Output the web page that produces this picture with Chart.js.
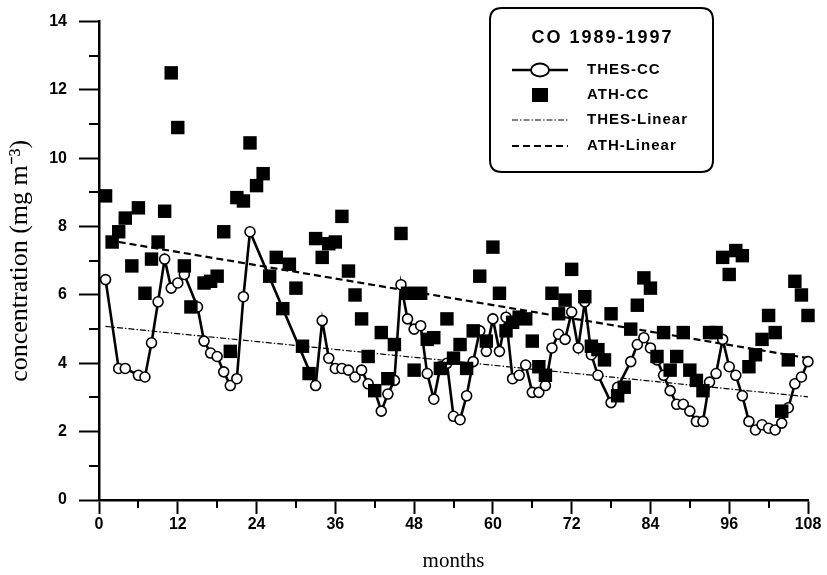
<!DOCTYPE html>
<html>
<head>
<meta charset="utf-8">
<title>CO 1989-1997</title>
<script src="https://cdn.jsdelivr.net/npm/chart.js@4.4.1/dist/chart.umd.min.js"></script>
<style>
  html, body { margin: 0; padding: 0; background: #fff; }
  canvas { display: block; }
</style>
</head>
<body>
<canvas id="chart" width="827" height="575"></canvas>
<script>
// monthly CO concentrations
var thesMonths = [1, 3, 4, 6, 7, 8, 9, 10, 11, 12, 13, 15, 16, 17, 18, 19, 20, 21, 22, 23,
  33, 34, 35, 36, 37, 38, 39, 40, 41, 42, 43, 44, 45, 46, 47, 48, 49, 50, 51, 52, 53, 54, 55,
  56, 57, 58, 59, 60, 61, 62, 63, 64, 65, 66, 67, 68, 69, 70, 71, 72, 73, 74, 75, 76, 78, 79,
  81, 82, 83, 84, 85, 86, 87, 88, 89, 90, 91, 92, 93, 94, 95, 96, 97, 98, 99, 100, 101, 102,
  103, 104, 105, 106, 107, 108];
var thesValues = [6.45, 3.85, 3.85, 3.65, 3.6, 4.6, 5.8, 7.05, 6.2, 6.35, 6.6, 5.65, 4.65, 4.3, 4.2, 3.75, 3.35, 3.55, 5.95, 7.85,
  3.35, 5.25, 4.15, 3.85, 3.85, 3.8, 3.6, 3.8, 3.4, 3.2, 2.6, 3.1, 3.5, 6.3, 5.3, 5.0, 5.1, 3.7, 2.95, 3.9, 4.0, 2.45, 2.35,
  3.05, 4.05, 4.95, 4.35, 5.3, 4.35, 5.35, 3.55, 3.65, 3.95, 3.15, 3.15, 3.35, 4.45, 4.85, 4.7, 5.5, 4.45, 5.8, 4.25, 3.65, 2.85, 3.3,
  4.05, 4.55, 4.75, 4.45, 4.1, 3.65, 3.2, 2.8, 2.8, 2.6, 2.3, 2.3, 3.45, 3.7, 4.7, 3.9, 3.65, 3.05, 2.3, 2.05, 2.2, 2.1,
  2.05, 2.25, 2.7, 3.4, 3.6, 4.05];

var athMonths = [1, 2, 3, 4, 5, 6, 7, 8, 9, 10, 11, 12, 13, 14, 16, 17, 18, 19, 20, 21, 22, 23, 24, 25, 26, 27, 28, 29, 30,
  31, 32, 33, 34, 35, 36, 37, 38, 39, 40, 41, 42, 43, 44, 45, 46, 47, 48, 49, 50, 51, 52, 53, 54, 55, 56, 57, 58, 59, 60,
  61, 62, 63, 64, 65, 66, 67, 68, 69, 70, 71, 72, 74, 75, 76, 77, 78, 79, 80, 81, 82, 83, 84, 85, 86, 87, 88, 89, 90,
  91, 92, 93, 94, 95, 96, 97, 98, 99, 100, 101, 102, 103, 104, 105, 106, 107, 108];
var athValues = [8.9, 7.55, 7.85, 8.25, 6.85, 8.55, 6.05, 7.05, 7.55, 8.45, 12.5, 10.9, 6.85, 5.65, 6.35, 6.4, 6.55, 7.85, 4.35, 8.85, 8.75, 10.45, 9.2, 9.55, 6.55, 7.1, 5.6, 6.9, 6.2,
  4.5, 3.7, 7.65, 7.1, 7.5, 7.55, 8.3, 6.7, 6.0, 5.3, 4.2, 3.2, 4.9, 3.55, 4.55, 7.8, 6.05, 3.8, 6.05, 4.7, 4.75, 3.85, 5.3, 4.15, 4.55, 3.85, 4.95, 6.55, 4.65, 7.4,
  6.05, 4.95, 5.2, 5.35, 5.3, 4.65, 3.9, 3.65, 6.05, 5.45, 5.85, 6.75, 5.95, 4.5, 4.4, 4.1, 5.45, 3.05, 3.3, 5.0, 5.7, 6.5, 6.2, 4.2, 4.9, 3.8, 4.2, 4.9, 3.8,
  3.5, 3.2, 4.9, 4.9, 7.1, 6.6, 7.3, 7.15, 3.9, 4.25, 4.7, 5.4, 4.9, 2.6, 4.1, 6.4, 6.0, 5.4];

// linear trend lines (end points)
var thesLinearMonths = [1, 108];
var thesLinearValues = [5.08, 3.02];
var athLinearMonths = [3, 108];
var athLinearValues = [7.55, 4.15];

var xTicks = [0, 12, 24, 36, 48, 60, 72, 84, 96, 108];
var yTicks = [0, 2, 4, 6, 8, 10, 12, 14];

var legendTitle = 'CO 1989-1997';

var SANS = "'Liberation Sans', Arial, sans-serif";
var SERIF = "'Liberation Serif', 'Times New Roman', serif";

function pairs(xs, ys) {
  var out = [];
  for (var i = 0; i < xs.length; i++) {
    out.push({ x: xs[i], y: ys[i] });
  }
  return out;
}

function isMajor(list, v) {
  return list.indexOf(v) !== -1;
}

// minor ticks are shorter than the major ones, chart.js cannot vary tickLength
var minorTicks = {
  id: 'minorTicks',
  afterDraw: function(chart) {
    var ctx = chart.ctx;
    var xs = chart.scales.x, ys = chart.scales.y;
    var area = chart.chartArea;
    ctx.save();
    ctx.strokeStyle = '#000';
    ctx.lineWidth = 2;
    ctx.beginPath();
    for (var v = 1; v < 14; v += 2) {
      var py = Math.round(ys.getPixelForValue(v));
      ctx.moveTo(area.left - 10, py);
      ctx.lineTo(area.left, py);
    }
    for (var m = 6; m < 108; m += 12) {
      var px = Math.round(xs.getPixelForValue(m));
      ctx.moveTo(px, area.bottom);
      ctx.lineTo(px, area.bottom + 8);
    }
    ctx.stroke();
    ctx.restore();
  }
};

function roundRect(ctx, x, y, w, h, r) {
  ctx.beginPath();
  ctx.moveTo(x + r, y);
  ctx.lineTo(x + w - r, y);
  ctx.quadraticCurveTo(x + w, y, x + w, y + r);
  ctx.lineTo(x + w, y + h - r);
  ctx.quadraticCurveTo(x + w, y + h, x + w - r, y + h);
  ctx.lineTo(x + r, y + h);
  ctx.quadraticCurveTo(x, y + h, x, y + h - r);
  ctx.lineTo(x, y + r);
  ctx.quadraticCurveTo(x, y, x + r, y);
  ctx.closePath();
}

// boxed legend sitting inside the plot, top right
var boxLegend = {
  id: 'boxLegend',
  afterDraw: function(chart) {
    var ctx = chart.ctx;
    var bx = 490, by = 8, bw = 223, bh = 164;
    var sx0 = 512, sx1 = 568, tx = 587;
    var rows = [70, 95, 120, 146];
    var sets = chart.data.datasets;

    ctx.save();
    roundRect(ctx, bx, by, bw, bh, 12);
    ctx.fillStyle = '#fff';
    ctx.fill();
    ctx.lineWidth = 2;
    ctx.strokeStyle = '#000';
    ctx.stroke();

    ctx.fillStyle = '#000';
    ctx.textBaseline = 'middle';
    ctx.textAlign = 'center';
    ctx.font = 'bold 18px ' + SANS;
    ctx.letterSpacing = '2px';
    ctx.fillText(legendTitle, bx + bw / 2 + 1, 38);

    ctx.textAlign = 'left';
    ctx.font = 'bold 15px ' + SANS;
    ctx.letterSpacing = '1px';

    // THES-CC: line with hollow circle
    ctx.lineWidth = 2.5;
    ctx.setLineDash([]);
    ctx.beginPath();
    ctx.moveTo(sx0, rows[0]);
    ctx.lineTo(sx1, rows[0]);
    ctx.stroke();
    ctx.beginPath();
    ctx.ellipse((sx0 + sx1) / 2, rows[0], 9, 6.5, 0, 0, Math.PI * 2);
    ctx.fillStyle = '#fff';
    ctx.fill();
    ctx.lineWidth = 1.8;
    ctx.stroke();
    ctx.fillStyle = '#000';
    ctx.fillText(sets[1].label, tx, rows[0]);

    // ATH-CC: filled square
    ctx.fillRect((sx0 + sx1) / 2 - 8, rows[1] - 7, 16, 14);
    ctx.fillText(sets[0].label, tx, rows[1]);

    // THES-Linear
    ctx.lineWidth = 1.2;
    ctx.setLineDash(sets[2].borderDash);
    ctx.beginPath();
    ctx.moveTo(sx0, rows[2]);
    ctx.lineTo(sx1, rows[2]);
    ctx.stroke();
    ctx.fillText(sets[2].label, tx, rows[2]);

    // ATH-Linear
    ctx.lineWidth = 2.2;
    ctx.setLineDash(sets[3].borderDash);
    ctx.beginPath();
    ctx.moveTo(sx0, rows[3]);
    ctx.lineTo(sx1, rows[3]);
    ctx.stroke();
    ctx.setLineDash([]);
    ctx.fillText(sets[3].label, tx, rows[3]);
    ctx.restore();
  }
};

var whiteBackground = {
  id: 'whiteBackground',
  beforeDraw: function(chart) {
    var ctx = chart.ctx;
    ctx.save();
    ctx.fillStyle = '#fff';
    ctx.fillRect(0, 0, chart.width, chart.height);
    ctx.restore();
  }
};

var chart = new Chart(document.getElementById('chart'), {
  type: 'line',
  data: {
    datasets: [
      {
        label: 'ATH-CC',
        data: pairs(athMonths, athValues),
        showLine: false,
        pointStyle: 'rect',
        pointRadius: 9.5,
        pointBackgroundColor: '#000',
        pointBorderColor: '#000',
        pointBorderWidth: 0,
        clip: false
      },
      {
        label: 'THES-CC',
        data: pairs(thesMonths, thesValues),
        borderColor: '#000',
        borderWidth: 2.6,
        tension: 0,
        pointStyle: 'circle',
        pointRadius: 5,
        pointBackgroundColor: '#fff',
        pointBorderColor: '#000',
        pointBorderWidth: 1.6,
        clip: false
      },
      {
        label: 'THES-Linear',
        data: pairs(thesLinearMonths, thesLinearValues),
        borderColor: '#000',
        borderWidth: 1.2,
        borderDash: [6, 2, 1.5, 2],
        pointRadius: 0
      },
      {
        label: 'ATH-Linear',
        data: pairs(athLinearMonths, athLinearValues),
        borderColor: '#000',
        borderWidth: 2.2,
        borderDash: [7, 4],
        pointRadius: 0
      }
    ]
  },
  options: {
    responsive: false,
    animation: false,
    layout: { padding: { top: 16, right: 19, left: 0, bottom: 0 } },
    plugins: {
      legend: { display: false },
      tooltip: { enabled: false }
    },
    scales: {
      x: {
        type: 'linear',
        min: 0,
        max: 108,
        afterFit: function(scale) { scale.height = 75; },
        ticks: {
          stepSize: 6,
          autoSkip: false,
          maxRotation: 0,
          padding: 1,
          color: '#000',
          font: { family: SANS, size: 16, weight: 'bold' },
          callback: function(v) { return isMajor(xTicks, v) ? String(v) : ''; }
        },
        grid: {
          drawOnChartArea: false,
          tickLength: 14,
          tickWidth: 2,
          tickColor: function(c) {
            return c.tick && isMajor(xTicks, c.tick.value) ? '#000' : 'rgba(0,0,0,0)';
          }
        },
        border: { color: '#000', width: 2.5 },
        title: {
          display: true,
          text: 'months',
          color: '#000',
          font: { family: SERIF, size: 21 },
          padding: { top: 0, bottom: 1 }
        }
      },
      y: {
        min: 0,
        max: 14,
        afterFit: function(scale) { scale.width = 99; },
        ticks: {
          stepSize: 1,
          autoSkip: false,
          padding: 12,
          color: '#000',
          font: { family: SANS, size: 16, weight: 'bold' },
          callback: function(v) { return isMajor(yTicks, v) ? String(v) : ''; }
        },
        grid: {
          drawOnChartArea: false,
          tickLength: 20,
          tickWidth: 2,
          tickColor: function(c) {
            return c.tick && isMajor(yTicks, c.tick.value) ? '#000' : 'rgba(0,0,0,0)';
          }
        },
        border: { color: '#000', width: 2.5 },
        title: {
          display: true,
          text: 'concentration (mg m\u207B\u00B3)',
          color: '#000',
          font: { family: SERIF, size: 26 },
          padding: { top: 5, bottom: 0 }
        }
      }
    }
  },
  plugins: [whiteBackground, minorTicks, boxLegend]
});
</script>
</body>
</html>
